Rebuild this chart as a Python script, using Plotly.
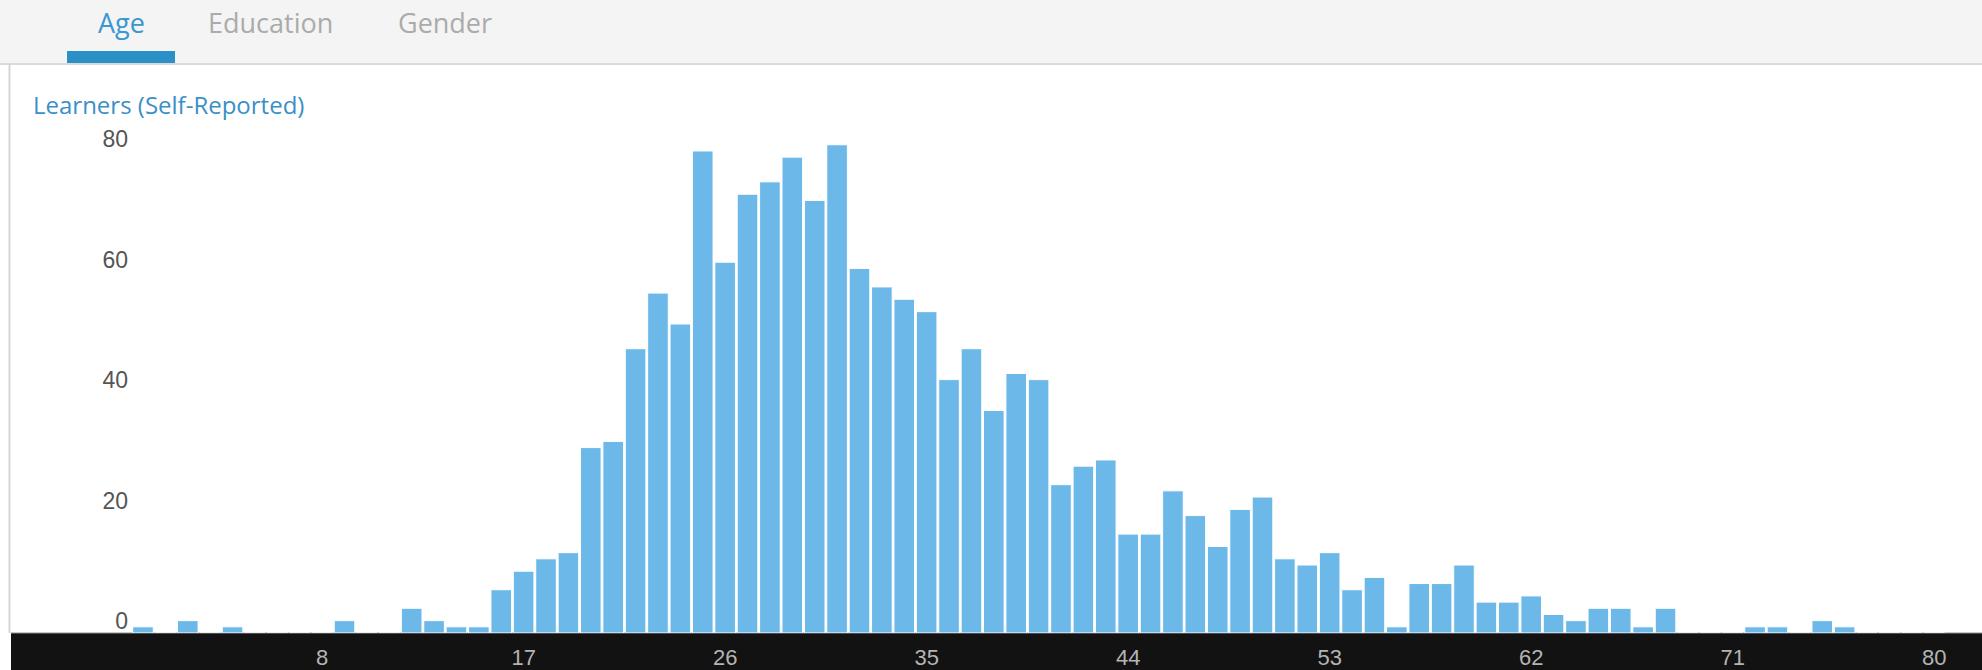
import plotly.graph_objects as go

# ---------------- data ----------------
ages = list(range(0, 81))
learners = [1, 0, 2, 0, 1, 0, 0, 0, 0, 2,
            0, 0, 4, 2, 1, 1, 7, 10, 12, 13,
            30, 31, 46, 55, 50, 78, 60, 71, 73, 77,
            70, 79, 59, 56, 54, 52, 41, 46, 36, 42,
            41, 24, 27, 28, 16, 16, 23, 19, 14, 20,
            22, 12, 11, 13, 7, 9, 1, 8, 8, 11,
            5, 5, 6, 3, 2, 4, 4, 1, 4, 0,
            0, 0, 1, 1, 0, 2, 1, 0, 0, 0, 0]
x_tick_vals = [8, 17, 26, 35, 44, 53, 62, 71, 80]
x_tick_text = [str(v) for v in x_tick_vals]
y_tick_vals = [0, 20, 40, 60, 80]
y_tick_text = [str(v) for v in y_tick_vals]
tabs = ["Age", "Education", "Gender"]
y_title = "Learners (Self-Reported)"

# ---------------- geometry ----------------
W, H = 1982, 670
x0_px, px_per_age = 143.0, 22.39
base_px, px_per_unit = 633.0, 6.18
band_frac = (H - base_px) / H

fig = go.Figure()
fig.add_trace(go.Bar(
    x=ages, y=learners,
    marker=dict(color="#6cb8e8", line=dict(color="#ffffff", width=1)),
    hoverinfo="x+y", showlegend=False,
))

# invisible trace to activate the label axis
fig.add_trace(go.Scatter(x=[None], y=[None], yaxis="y2", showlegend=False))

fig.update_layout(
    width=W, height=H,
    margin=dict(l=0, r=0, t=0, b=0, pad=0),
    paper_bgcolor="#ffffff",
    plot_bgcolor="rgba(0,0,0,0)",
    bargap=0.08,
    xaxis=dict(
        domain=[0, 1],
        range=[(0 - x0_px) / px_per_age, (W - x0_px) / px_per_age],
        tickvals=x_tick_vals, ticktext=x_tick_text,
        showgrid=False, zeroline=False, showline=False, ticks="",
        tickfont=dict(family="Liberation Sans, Arial", size=22, color="#b4b4b4"),
        ticklabelstandoff=9,
        fixedrange=True,
    ),
    yaxis=dict(
        domain=[band_frac, 1],
        range=[0, base_px / px_per_unit],
        showticklabels=False, showgrid=False, zeroline=False, showline=False,
        ticks="", fixedrange=True,
    ),
    yaxis2=dict(
        overlaying="y", anchor="free", position=128 / W, side="left",
        range=[-12 / 6.025, 621 / 6.025],
        tickvals=y_tick_vals, ticktext=y_tick_text,
        showgrid=False, zeroline=False, showline=False, ticks="",
        tickfont=dict(family="Liberation Sans, Arial", size=23, color="#555555"),
        fixedrange=True,
    ),
)

def py(px):
    return (H - px) / H

shapes = [
    # tab bar
    dict(type="rect", xref="paper", yref="paper", x0=0, x1=1, y0=py(63), y1=1,
         fillcolor="#f4f4f4", line=dict(width=0), layer="below"),
    dict(type="line", xref="paper", yref="paper", x0=0, x1=1, y0=py(64), y1=py(64),
         line=dict(color="#dadada", width=2), layer="below"),
    # active tab underline
    dict(type="rect", xref="paper", yref="paper", x0=67 / W, x1=175 / W, y0=py(63), y1=py(51),
         fillcolor="#2a90c6", line=dict(width=0), layer="below"),
    # left border
    dict(type="line", xref="paper", yref="paper", x0=9.5 / W, x1=9.5 / W, y0=band_frac, y1=py(64),
         line=dict(color="#d6d6d6", width=2), layer="below"),
    # black axis band
    dict(type="rect", xref="paper", yref="paper", x0=11 / W, x1=1, y0=0, y1=band_frac,
         fillcolor="#121212", line=dict(width=0), layer="below"),
    dict(type="line", xref="paper", yref="paper", x0=11 / W, x1=1, y0=band_frac, y1=band_frac,
         line=dict(color="#8c8c8c", width=1), layer="below"),
]
fig.update_layout(shapes=shapes)

tab_x = [121, 270, 445]
tab_colors = ["#3b97d0", "#ababab", "#ababab"]
annotations = []
for t, xc, c in zip(tabs, tab_x, tab_colors):
    annotations.append(dict(text=t, xref="paper", yref="paper", x=xc / W, y=py(23),
                            xanchor="center", yanchor="middle", showarrow=False,
                            font=dict(family="Open Sans", size=27, color=c)))
annotations.append(dict(text=y_title, xref="paper", yref="paper", x=31 / W, y=py(104),
                        xanchor="left", yanchor="middle", showarrow=False,
                        font=dict(family="Open Sans", size=24, color="#3a8fc8")))
fig.update_layout(annotations=annotations)

fig.write_html("out.html", config={"displayModeBar": False},
               post_script="document.body.style.margin='0';document.body.style.overflow='hidden';")
